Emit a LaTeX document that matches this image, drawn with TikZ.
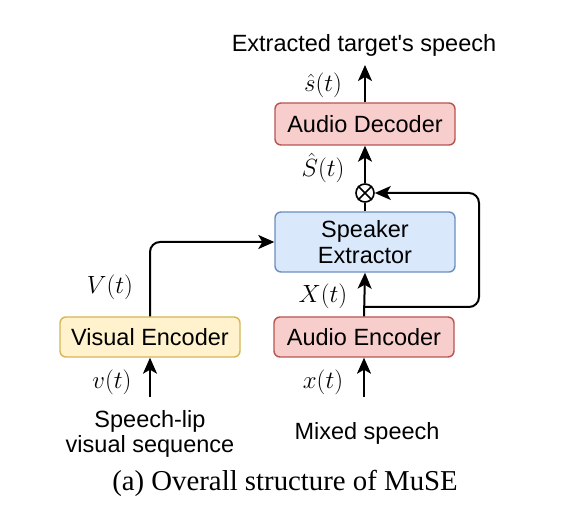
\documentclass[tikz,border=0pt]{standalone}
\usepackage{fontspec}
\setmainfont{Liberation Serif}
\newfontfamily\labelfont{Liberation Sans}
\usetikzlibrary{arrows.meta}
\definecolor{redfill}{HTML}{F8CECC}
\definecolor{redline}{HTML}{B85450}
\definecolor{bluefill}{HTML}{DAE8FC}
\definecolor{blueline}{HTML}{6C8EBF}
\definecolor{yelfill}{HTML}{FFF2CC}
\definecolor{yelline}{HTML}{D6B656}
\tikzset{
  boxbase/.style={rounded corners=6pt, line width=1.4pt, minimum width=180pt, align=center,
    font=\labelfont\fontsize{23.5}{25.5}\selectfont, inner sep=0pt},
  redbox/.style={boxbase, fill=redfill, draw=redline, minimum height=42pt},
  bluebox/.style={boxbase, fill=bluefill, draw=blueline, minimum height=60pt},
  yelbox/.style={boxbase, fill=yelfill, draw=yelline, minimum height=40pt},
  conn/.style={line width=2pt, -{Stealth[length=16pt, width=14pt, inset=4pt]}},
  plain/.style={line width=2pt},
  txt/.style={font=\labelfont\fontsize{23.5}{25.5}\selectfont, align=center, inner sep=0pt},
  mlab/.style={font=\fontsize{24.88}{28}\selectfont, inner sep=0pt},
}
\begin{document}
\begin{tikzpicture}[x=1pt, y=-1pt]
\useasboundingbox (0,0) rectangle (582,516);
\node[redbox, minimum height=42pt] (dec) at (365,124) {Audio Decoder};
\node[bluebox] (ext) at (365,242) {Speaker\\Extractor};
\node[yelbox] (venc) at (150,337) {Visual Encoder};
\node[redbox, minimum height=40pt] (aenc) at (364,337) {Audio Encoder};
\node[circle, draw, line width=1.6pt, minimum size=18pt, inner sep=0pt] (ot) at (365,193) {};
\draw[line width=1.5pt] (ot.north east) -- (ot.south west) (ot.north west) -- (ot.south east);

\coordinate (out) at (365,65);
\coordinate (vin) at (150,397);
\coordinate (xin) at (364,397);
\coordinate (fb) at (364,307);
\coordinate (fbr) at (479,307);

\draw[conn] (dec.north) -- (out);
\draw[conn] (ot.north) -- (dec.south);
\draw[plain] (ext.north) -- (ot.south);
\draw[conn] (aenc.north) -- (ext.south);
\draw[conn, rounded corners=10pt] (fb) -- (fbr) |- (ot.east);
\draw[conn, rounded corners=10pt] (venc.north) |- (ext.west);
\draw[conn] (vin) -- (venc.south);
\draw[conn] (xin) -- (aenc.south);

\node[txt] (ttop) at (364,45) {Extracted target's speech};
\node[mlab] (ls) at (323,85) {$\hat{s}(t)$};
\node[mlab] (lS) at (323,168) {$\hat{S}(t)$};
\node[mlab] (lX) at (323,296) {$X(t)$};
\node[mlab] (lV) at (110,287) {$V(t)$};
\node[mlab] (lv) at (112,382) {$v(t)$};
\node[mlab] (lx) at (323,382) {$x(t)$};
\node[txt] (tvis) at (150,434) {Speech-lip\\visual sequence};
\node[txt] (tmix) at (367,433) {Mixed speech};
\node[font=\fontsize{28.8}{32}\selectfont, inner sep=0pt] (cap) at (285,483) {(a) Overall structure of MuSE};
\end{tikzpicture}
\end{document}
